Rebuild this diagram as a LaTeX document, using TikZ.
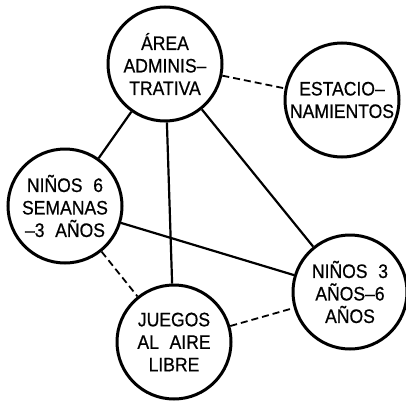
\documentclass[tikz,border=0pt]{standalone}
\usepackage{fontspec}
\setmainfont{Liberation Sans}[FakeStretch=0.9, WordSpace=2.2, FakeBold=0.6]
\usetikzlibrary{positioning}

\begin{document}
\begin{tikzpicture}[x=1pt, y=-1pt,
    room/.style={draw, circle, line width=3pt, minimum size=114pt, inner sep=0pt,
        align=center, font=\fontsize{19.5}{22.5}\selectfont},
    link/.style={line width=2.2pt},
    weaklink/.style={line width=1.8pt, dash pattern=on 7pt off 4pt}]
    \useasboundingbox (0,0) rectangle (406,404);

    % Rooms
    \node[room] (admin) at (165,64) {ÁREA\\ADMINIS–\\TRATIVA};
    \node[room] (parking) at (342,100) {ESTACIO–\\NAMIENTOS};
    \node[room] (infant) at (65,206) {NIÑOS 6\\SEMANAS\\–3 AÑOS};
    \node[room] (play) at (174,342) {JUEGOS\\AL AIRE\\LIBRE};
    \node[room] (kids) at (350,292) {NIÑOS 3\\AÑOS–6\\AÑOS};

    % Strong relations
    \draw[link] (admin) -- (infant);
    \draw[link] (admin) -- (play);
    \draw[link] (admin) -- (kids);
    \draw[link] (infant) -- (kids);

    % Weak relations
    \draw[weaklink] (admin) -- (parking);
    \draw[weaklink] (infant) -- (play);
    \draw[weaklink] (play) -- (kids);
\end{tikzpicture}
\end{document}
